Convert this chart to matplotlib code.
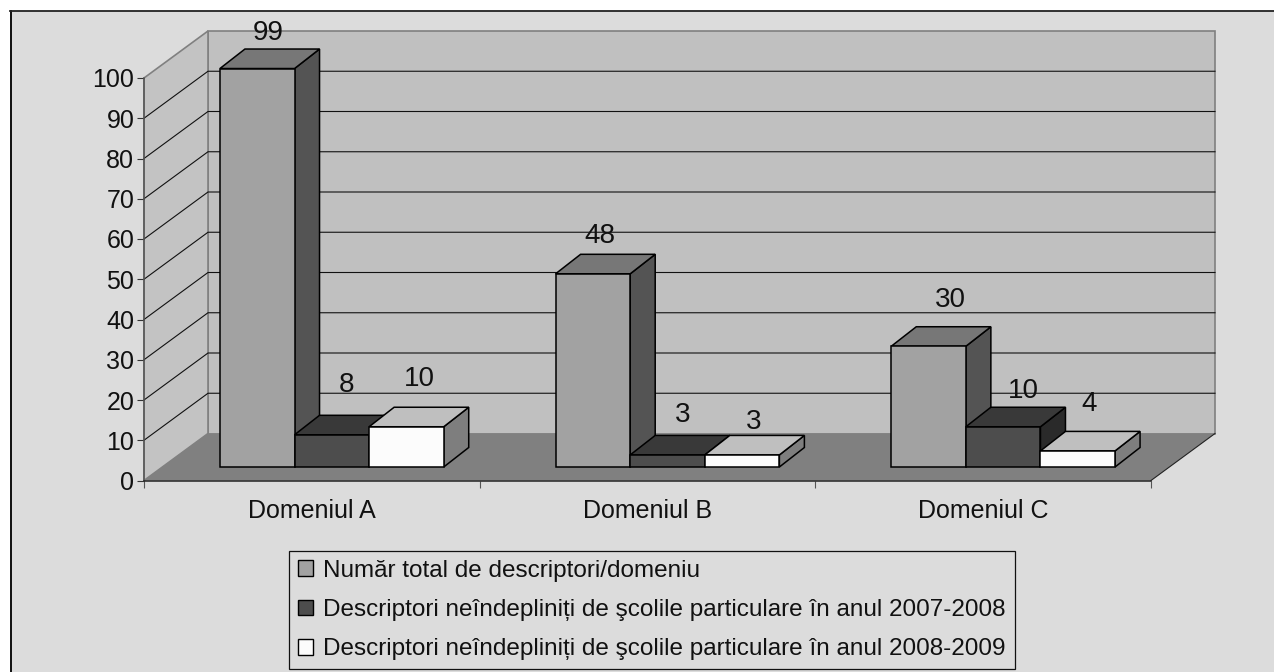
import matplotlib
matplotlib.use("Agg")
import matplotlib.pyplot as plt
from matplotlib.patches import Polygon, Rectangle, Patch
from matplotlib.lines import Line2D

categories = ["Domeniul A", "Domeniul B", "Domeniul C"]
total = [99, 48, 30]
nein_2007 = [8, 3, 10]
nein_2008 = [10, 3, 4]
series_names = ["Număr total de descriptori/domeniu",
                "Descriptori neîndepliniți de şcolile particulare în anul 2007-2008",
                "Descriptori neîndepliniți de şcolile particulare în anul 2008-2009"]
y_ticks = list(range(0, 101, 10))

# front, top, side
shades = [("#a2a2a2", "#777777", "#545454"),
          ("#4d4d4d", "#393939", "#2a2a2a"),
          ("#fcfcfc", "#bfbfbf", "#7e7e7e")]
# label offset from the middle of the bar's front top edge, pixels
label_offsets = [[(11, 35.5), (15, 49.5), (13, 47.5)],
                 [(7, 37.5), (15, 39.5), (12, 32.5)],
                 [(22, 46.5), (20, 35.5), (11, 46.5)]]

W, H = 1274, 672
BG = "#dcdcdc"
plt.rcParams["font.family"] = ["Liberation Sans", "DejaVu Sans"]
FS = 17.5
FS_CAT = 18
FS_VAL = 20

fig = plt.figure(figsize=(W / 100, H / 100), dpi=100, facecolor="white")
fig.add_artist(Rectangle((10 / W, 0), 1, 1 - 11 / H, transform=fig.transFigure, fc=BG, ec="none", zorder=-5))
fig.add_artist(Line2D([10.5 / W, 10.5 / W], [0, 1 - 11 / H], color="black", lw=1.3, zorder=-4))
fig.add_artist(Line2D([10 / W, 1], [1 - 11 / H, 1 - 11 / H], color="#222222", lw=1.3, zorder=-4))

L, R, T, B = 144, 1151, 78, 480.5
ax = fig.add_axes([L / W, 1 - B / H, (R - L) / W, (B - T) / H])
ax.set_xlim(0, 3)
ax.set_ylim(0, 100)
ax.patch.set_visible(False)

px_x = 3 / (R - L)
px_y = 100 / (B - T)
DX, DY = 64 * px_x, 47 * px_y      # depth of the floor
BDX, BDY = 25 * px_x, 19.5 * px_y  # depth of a bar
SX, SY = 20 * px_x, 13.5 * px_y    # bars stand this far back from the front edge
bar_w = 2 / 9


def poly(pts, fc, ec, lw, z):
    ax.add_patch(Polygon(pts, closed=True, fc=fc, ec=ec, lw=lw, zorder=z, clip_on=False, joinstyle="miter"))


# walls and floor
poly([(DX, DY), (3 + DX, DY), (3 + DX, 100 + DY), (DX, 100 + DY)], "#c0c0c0", "#808080", 1.2, 1)
poly([(0, 0), (DX, DY), (DX, 100 + DY), (0, 100)], "#c3c3c3", "#808080", 1.2, 1)
for t in y_ticks[1:-1]:
    ax.plot([0, DX, 3 + DX], [t, t + DY, t + DY], color="#111111", lw=0.8, zorder=1.5, clip_on=False)
poly([(0, 0), (3, 0), (3 + DX, DY), (DX, DY)], "#808080", "none", 0, 1.6)
ax.plot([3, 3 + DX], [0, DY], color="#222222", lw=0.8, zorder=1.7, clip_on=False)

# bars, back to front, left to right
z = 3
for i in range(len(categories)):
    vals = [total[i], nein_2007[i], nein_2008[i]]
    for j in range(3):
        v = vals[j]
        x0 = i + 1 / 6 + j * bar_w + SX
        x1 = x0 + bar_w
        y0 = SY
        y1 = SY + v
        front, top, side = shades[j]
        poly([(x1, y0), (x1 + BDX, y0 + BDY), (x1 + BDX, y1 + BDY), (x1, y1)], side, "black", 1.1, z)
        poly([(x0, y1), (x1, y1), (x1 + BDX, y1 + BDY), (x0 + BDX, y1 + BDY)], top, "black", 1.1, z)
        ax.bar(x0, v, bar_w, bottom=y0, align="edge", color=front, edgecolor="black", lw=1.1, zorder=z, clip_on=False)
        off = label_offsets[i][j]
        ax.annotate(str(v), xy=((x0 + x1) / 2, y1), xytext=(off[0] * 0.72, off[1] * 0.72),
                    textcoords="offset points", ha="center", va="center",
                    fontsize=FS_VAL, color="#111111", zorder=20, annotation_clip=False)
        z += 1

ax.spines["top"].set_visible(False)
ax.spines["right"].set_visible(False)
ax.spines["left"].set_color("#555555")
ax.spines["bottom"].set_color("#222222")
ax.spines["left"].set_linewidth(1.1)
ax.spines["bottom"].set_linewidth(1.1)
ax.spines["left"].set_zorder(2)
ax.spines["bottom"].set_zorder(2)

ax.set_yticks(y_ticks)
ax.set_xticks([0, 1, 2, 3])
ax.set_xticklabels([])
ax.set_xticks([0.5, 1.5, 2.5], categories, minor=True)
ax.tick_params(axis="y", length=5, width=0.8, color="#333333", pad=2, labelsize=FS_CAT, labelcolor="#111111")
ax.tick_params(axis="x", which="major", length=5, width=0.8, color="#555555")
ax.tick_params(axis="x", which="minor", length=0, pad=13, labelsize=FS_CAT, labelcolor="#111111")

handles = [Patch(fc=shades[k][0], ec="black", lw=1.0) for k in range(3)]
leg = fig.legend(handles, series_names, loc="center", bbox_to_anchor=(652 / W, 1 - 610 / H),
                 fontsize=FS, frameon=True, fancybox=False, framealpha=1, facecolor=BG, edgecolor="#111111",
                 handlelength=0.62, handleheight=0.62, handletextpad=0.41, labelspacing=0.71,
                 borderpad=0.36, borderaxespad=0)
leg.get_frame().set_linewidth(0.9)
for t in leg.get_texts():
    t.set_color("#111111")

fig.savefig("out.png", dpi=100, facecolor=fig.get_facecolor())
